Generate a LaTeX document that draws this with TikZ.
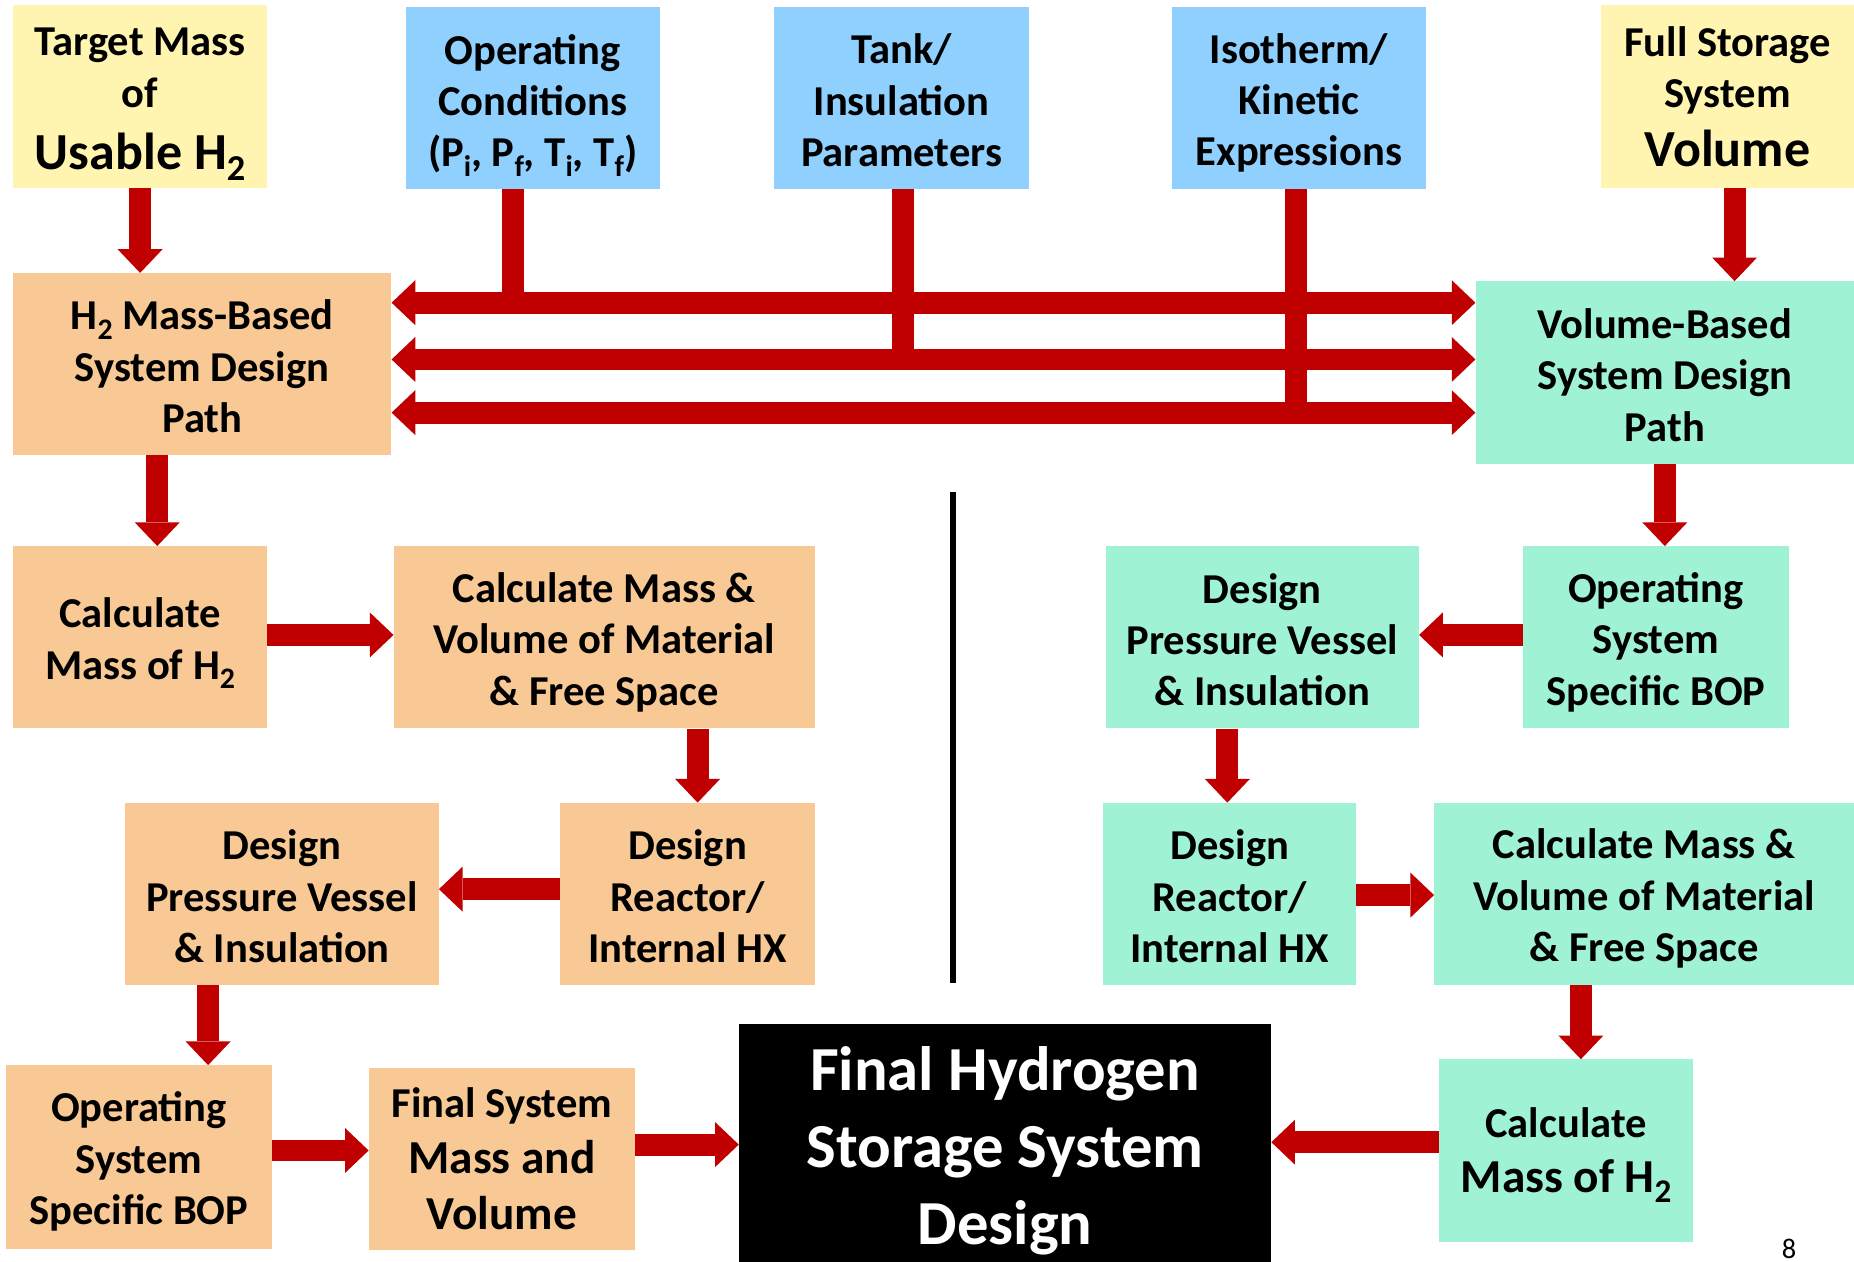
\documentclass[tikz,border=0pt]{standalone}
\usepackage{fontspec}
\setmainfont{Carlito}
\usetikzlibrary{arrows.meta}
\definecolor{cyel}{HTML}{FFF5B0}
\definecolor{cblue}{HTML}{8FD0FF}
\definecolor{corg}{HTML}{F8C994}
\definecolor{cmint}{HTML}{A0F2D4}
\definecolor{cred}{HTML}{C00000}
\tikzset{
  bx/.style={rectangle, inner sep=0pt},
  tx/.style={inner sep=0pt, align=center, text=black, font=\bfseries\fontsize{36}{43.5}\selectfont},
  arr/.style={draw=cred, line width=18.5pt, -{Triangle[length=20pt,width=38pt,line width=0pt]}},
  darr/.style={draw=cred, line width=18.5pt, {Triangle[length=20pt,width=38pt,line width=0pt]}-{Triangle[length=20pt,width=38pt,line width=0pt]}},
  stem/.style={draw=cred, line width=18.5pt},
}
\newcommand{\bigtxt}{\fontsize{44}{50}\selectfont}
\makeatletter
\newcommand{\sbs}[1]{\raisebox{-0.22em}{\fontsize{\fpeval{0.7*\f@size}}{\fpeval{0.8*\f@size}}\selectfont #1}}
\makeatother
\begin{document}
\begin{tikzpicture}[x=1pt,y=-1pt]
\useasboundingbox (0,0) rectangle (1568,1067);
% top row
\node[bx, fill=cyel, minimum width=215pt, minimum height=155pt] (tgt) at (118.5,81.5) {};
\node[tx] (tgtt) at ([yshift=-7pt]tgt.center) {Target Mass\\of\\[9pt]{\bigtxt Usable H\sbs{2}}};
\node[bx, fill=cblue, minimum width=215pt, minimum height=154pt] (opc) at (450.5,83) {};
\node[tx] (opct) at ([yshift=-6pt]opc.center) {Operating\\Conditions\\(P\sbs{i}, P\sbs{f}, T\sbs{i}, T\sbs{f})};
\node[bx, fill=cblue, minimum width=215pt, minimum height=154pt] (tank) at (762.5,83) {};
\node[tx] (tankt) at ([yshift=-2pt]tank.center) {Tank/\\Insulation\\Parameters};
\node[bx, fill=cblue, minimum width=215pt, minimum height=154pt] (iso) at (1098.5,83) {};
\node[tx] (isot) at ([yshift=-4pt]iso.center) {Isotherm/\\Kinetic\\Expressions};
\node[bx, fill=cyel, minimum width=214pt, minimum height=155pt] (full) at (1461,81.5) {};
\node[tx] (fullt) at ([yshift=0pt]full.center) {Full Storage\\System\\[6pt]{\bigtxt Volume}};
% design paths
\node[bx, fill=corg, minimum width=320pt, minimum height=154pt] (h2) at (171,308) {};
\node[tx] (h2t) at ([yshift=-2pt]h2.center) {H\sbs{2} Mass-Based\\System Design\\Path};
\node[bx, fill=cmint, minimum width=320pt, minimum height=154pt] (vol) at (1408,315) {};
\node[tx] (volt) at ([yshift=-2pt]vol.center) {Volume-Based\\System Design\\Path};
% left column
\node[bx, fill=corg, minimum width=215pt, minimum height=154pt] (calcL) at (118.5,539) {};
\node[tx] (calcLt) at ([yshift=-5pt]calcL.center) {Calculate\\Mass of H\sbs{2}};
\node[bx, fill=corg, minimum width=356pt, minimum height=154pt] (cmvL) at (511,539) {};
\node[tx] (cmvLt) at ([yshift=-4pt]cmvL.center) {Calculate Mass \&\\Volume of Material\\\& Free Space};
\node[bx, fill=corg, minimum width=215pt, minimum height=154pt] (reaL) at (581.5,756) {};
\node[tx] (reaLt) at ([yshift=-2pt]reaL.center) {Design\\Reactor/\\Internal HX};
\node[bx, fill=corg, minimum width=265pt, minimum height=154pt] (pvL) at (238.5,756) {};
\node[tx] (pvLt) at ([yshift=-2pt]pvL.center) {Design\\Pressure Vessel\\\& Insulation};
\node[bx, fill=corg, minimum width=225pt, minimum height=155pt] (bopL) at (117.5,978.5) {};
\node[tx] (bopLt) at ([yshift=-4pt]bopL.center) {Operating\\System\\Specific BOP};
\node[bx, fill=corg, minimum width=225pt, minimum height=154pt] (fsys) at (424.5,980) {};
\node[tx, font=\bfseries\fontsize{40}{47}\selectfont] (fsyst) at (fsys.center) {{\fontsize{36}{47}\selectfont Final System}\\Mass and\\Volume};
% final
\node[bx, fill=black, minimum width=450pt, minimum height=201pt] (final) at (850,966.5) {};
\node[tx, text=white, font=\bfseries\fontsize{53}{65}\selectfont] (finalt) at ([yshift=-7pt]final.center) {Final Hydrogen\\Storage System\\Design};
% right column
\node[bx, fill=cmint, minimum width=265pt, minimum height=154pt] (pvR) at (1067.5,539) {};
\node[tx] (pvRt) at ([yshift=-2pt]pvR.center) {Design\\Pressure Vessel\\\& Insulation};
\node[bx, fill=cmint, minimum width=225pt, minimum height=154pt] (bopR) at (1400.5,539) {};
\node[tx] (bopRt) at ([yshift=-4pt]bopR.center) {Operating\\System\\Specific BOP};
\node[bx, fill=cmint, minimum width=214pt, minimum height=154pt] (reaR) at (1040,756) {};
\node[tx] (reaRt) at ([yshift=-2pt]reaR.center) {Design\\Reactor/\\Internal HX};
\node[bx, fill=cmint, minimum width=355pt, minimum height=154pt] (cmvR) at (1390.5,756) {};
\node[tx] (cmvRt) at ([yshift=-4pt]cmvR.center) {Calculate Mass \&\\Volume of Material\\\& Free Space};
\node[bx, fill=cmint, minimum width=215pt, minimum height=154pt] (calcR) at (1324.5,973) {};
\node[tx, font=\bfseries\fontsize{40}{46}\selectfont] (calcRt) at ([yshift=-4pt]calcR.center) {{\fontsize{36}{46}\selectfont Calculate}\\Mass of H\sbs{2}};
% page number
\node[font=\fontsize{24}{28}\selectfont, inner sep=0pt] (pnum) at (1513,1056) {8};
% separator
\draw[line width=4.5pt] (806,416) -- (806,831);
% bar levels
\coordinate (b1) at (0,265);
\coordinate (b2) at (0,313);
\coordinate (b3) at (0,358);
% stems from parameter boxes
\draw[stem] ([xshift=-16.5pt]opc.south) -- ([xshift=-16.5pt]opc.south |- b1);
\draw[stem] ([xshift=1.5pt]tank.south) -- ([xshift=1.5pt]tank.south |- b2);
\draw[stem] ([xshift=-2.5pt]iso.south) -- ([xshift=-2.5pt]iso.south |- b3);
% double arrows
\draw[darr] ([yshift=52pt]h2.east) -- ([yshift=52pt]h2.east -| vol.west);
\draw[darr] ([yshift=4pt]h2.east) -- ([yshift=4pt]h2.east -| vol.west);
\draw[darr] ([yshift=-41pt]h2.east) -- ([yshift=-41pt]h2.east -| vol.west);
% flow arrows
\draw[arr] (tgt.south) -- (tgt.south |- h2.north);
\draw[arr] ([xshift=6pt]full.south) -- ([xshift=6pt]full.south |- vol.north);
\draw[arr] ([xshift=-38pt]h2.south) -- ([xshift=-38pt]h2.south |- calcL.north);
\draw[arr] ([yshift=2pt]calcL.east) -- ([yshift=2pt]calcL.east -| cmvL.west);
\draw[arr] ([xshift=8.5pt]reaL.north |- cmvL.south) -- ([xshift=8.5pt]reaL.north);
\draw[arr] ([yshift=4pt]reaL.west) -- ([yshift=4pt]reaL.west -| pvL.east);
\draw[arr] ([xshift=-62.5pt]pvL.south) -- ([xshift=-62.5pt]pvL.south |- bopL.north);
\draw[arr] ([yshift=5.5pt]bopL.east) -- ([yshift=5.5pt]bopL.east -| fsys.west);
\draw[arr] ([yshift=12pt]fsys.east) -- ([yshift=12pt]fsys.east -| final.west);
\draw[arr] ([yshift=7pt]calcR.west) -- ([yshift=7pt]calcR.west -| final.east);
\draw[arr] (vol.south) -- (vol.south |- bopR.north);
\draw[arr] ([yshift=2pt]bopR.west) -- ([yshift=2pt]bopR.west -| pvR.east);
\draw[arr] ([xshift=-2pt]reaR.north |- pvR.south) -- ([xshift=-2pt]reaR.north);
\draw[arr] ([yshift=-1pt]reaR.east) -- ([yshift=-1pt]reaR.east -| cmvR.west);
\draw[arr] ([xshift=12.5pt]calcR.north |- cmvR.south) -- ([xshift=12.5pt]calcR.north);
\end{tikzpicture}
\end{document}
